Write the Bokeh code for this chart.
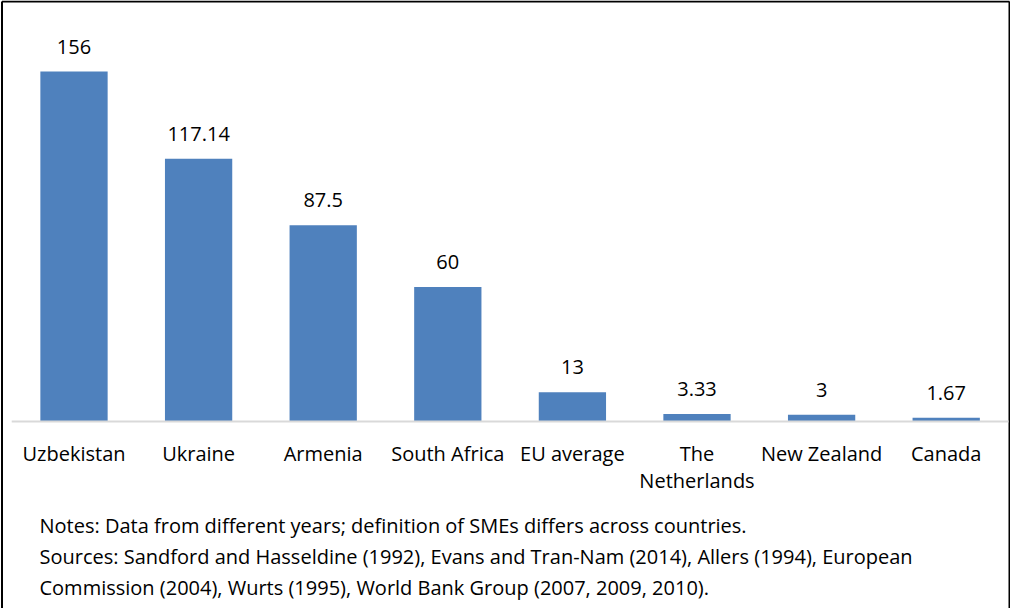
from bokeh.plotting import figure
from bokeh.models import Range1d, ColumnDataSource
from bokeh.embed import file_html
from bokeh.resources import INLINE
from bokeh.core.properties import value

categories = ["Uzbekistan", "Ukraine", "Armenia", "South Africa", "EU average",
              "The\nNetherlands", "New Zealand", "Canada"]
values = [156, 117.14, 87.5, 60, 13, 3.33, 3, 1.67]
value_labels = ["156", "117.14", "87.5", "60", "13", "3.33", "3", "1.67"]
notes = [
    "Notes: Data from different years; definition of SMEs differs across countries.",
    "Sources: Sandford and Hasseldine (1992), Evans and Tran-Nam (2014), Allers (1994), European",
    "Commission (2004), Wurts (1995), World Bank Group (2007, 2009, 2010).",
]

FONT = "Open Sans"
X0, X1 = -0.0899, 8.016
Y0, Y1 = -83.35, 187.65

p = figure(width=1010, height=608, output_backend="svg", toolbar_location=None,
           x_range=Range1d(X0, X1), y_range=Range1d(Y0, Y1),
           min_border=0)
p.xaxis.visible = False
p.yaxis.visible = False
p.xgrid.visible = False
p.ygrid.visible = False
p.outline_line_color = None
p.background_fill_color = "white"
p.border_fill_color = "white"

# border (left, top, right) — bottom edge lies off the visible page
px = (X1 - X0) / 1010
py = (Y1 - Y0) / 608
bx0, bx1, by1 = X0 + 1.5 * px, X1 - 1.0 * px, Y1 - 1.0 * py
p.segment(x0=[bx0, bx0, bx1], y0=[Y0, by1, Y0], x1=[bx0, bx1, bx1], y1=[by1, by1, by1],
          line_color="black", line_width=2)

xs = [i + 0.5 for i in range(len(categories))]
src = ColumnDataSource(dict(x=xs, top=values, lab=value_labels))
p.vbar(x="x", top="top", bottom=0, width=0.54, source=src,
       fill_color="#4F81BD", line_color=None)

p.segment(x0=[0], y0=[0], x1=[len(categories)], y1=[0], line_color="#D9D9D9", line_width=2)

p.text(x="x", y="top", text="lab", source=src, text_align="center",
       text_baseline="middle", y_offset=-25, text_font=value(FONT),
       text_font_size="20px", text_color="#000000")

lx, ly, lt = [], [], []
for i, c in enumerate(categories):
    for j, line in enumerate(c.split("\n")):
        lx.append(i + 0.5)
        ly.append(j)
        lt.append(line)
for j in range(2):
    idx = [k for k in range(len(lt)) if ly[k] == j]
    p.text(x=[lx[k] for k in idx], y=[0] * len(idx), text=[lt[k] for k in idx],
           text_align="center", text_baseline="middle", y_offset=32 + 27 * j,
           text_font=value(FONT), text_font_size="20px", text_color="#000000")

for j, line in enumerate(notes):
    p.text(x=[0.223], y=[0], text=[line], text_align="left", text_baseline="middle",
           y_offset=104 + 31 * j, text_font=value(FONT), text_font_size="20px",
           text_color="#000000")

open("out.html", "w").write(file_html(p, INLINE))
